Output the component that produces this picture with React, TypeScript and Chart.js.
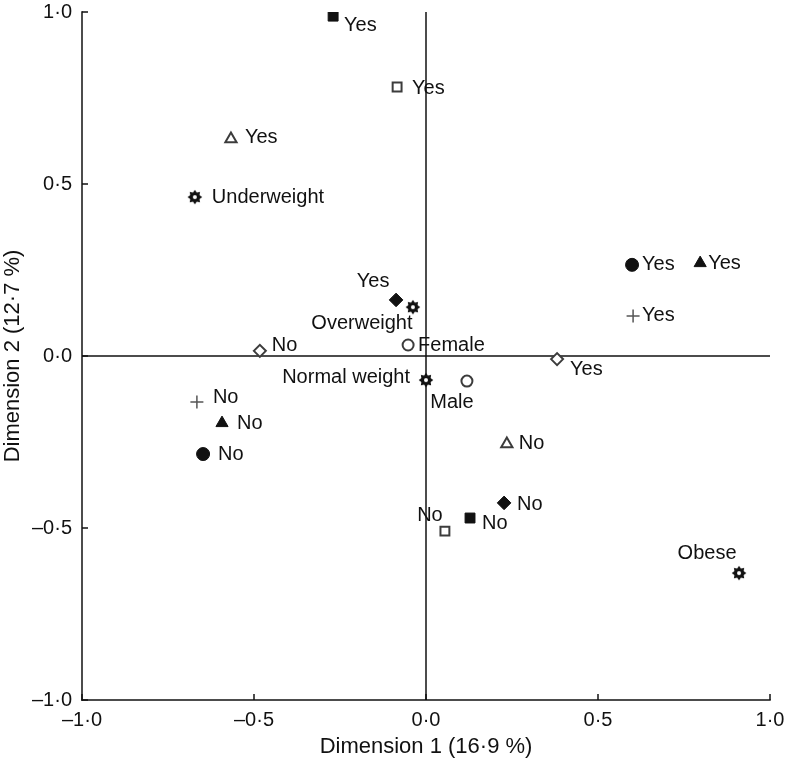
import React, { useEffect, useRef } from 'react';
import { Chart, registerables } from 'chart.js';

Chart.register(...registerables);

// ---- Data (Dimension 1, Dimension 2 coordinates per variable) ----
const tickValues = [-1, -0.5, 0, 0.5, 1];

const filledSquareDim1 = [-0.27, 0.128];
const filledSquareDim2 = [0.988, -0.471];
const filledSquareLabels = ['Yes', 'No'];

const openSquareDim1 = [-0.084, 0.055];
const openSquareDim2 = [0.782, -0.509];
const openSquareLabels = ['Yes', 'No'];

const openTriangleDim1 = [-0.567, 0.235];
const openTriangleDim2 = [0.631, -0.256];
const openTriangleLabels = ['Yes', 'No'];

const filledDiamondDim1 = [-0.087, 0.227];
const filledDiamondDim2 = [0.163, -0.427];
const filledDiamondLabels = ['Yes', 'No'];

const openDiamondDim1 = [-0.483, 0.381];
const openDiamondDim2 = [0.015, -0.009];
const openDiamondLabels = ['No', 'Yes'];

const filledCircleDim1 = [0.599, -0.648];
const filledCircleDim2 = [0.265, -0.285];
const filledCircleLabels = ['Yes', 'No'];

const filledTriangleDim1 = [0.797, -0.593];
const filledTriangleDim2 = [0.27, -0.195];
const filledTriangleLabels = ['Yes', 'No'];

const plusDim1 = [0.602, -0.666];
const plusDim2 = [0.116, -0.134];
const plusLabels = ['Yes', 'No'];

const sexDim1 = [-0.052, 0.119];
const sexDim2 = [0.032, -0.073];
const sexLabels = ['Female', 'Male'];

const bmiDim1 = [-0.672, -0.038, 0.0, 0.91];
const bmiDim2 = [0.462, 0.142, -0.07, -0.631];
const bmiLabels = ['Underweight', 'Overweight', 'Normal weight', 'Obese'];

// ---- Styling (positions of labels relative to markers, marker looks) ----
const FONT = '"Liberation Sans", Arial, Helvetica, sans-serif';
const INK = '#111';
const OPEN_STROKE = '#3c3c3c';

type Place = [number, number, CanvasTextAlign];

function makeStarburst(): HTMLCanvasElement {
  const c = document.createElement('canvas');
  c.width = 16;
  c.height = 16;
  const ctx = c.getContext('2d')!;
  const cx = 8;
  const cy = 8;
  const n = 8;
  ctx.beginPath();
  for (let i = 0; i < n * 2; i++) {
    const r = i % 2 === 0 ? 7.3 : 5;
    const a = (Math.PI * i) / n - Math.PI / 2;
    const px = cx + r * Math.cos(a);
    const py = cy + r * Math.sin(a);
    if (i === 0) ctx.moveTo(px, py);
    else ctx.lineTo(px, py);
  }
  ctx.closePath();
  ctx.fillStyle = INK;
  ctx.fill();
  ctx.beginPath();
  ctx.arc(cx, cy, 2, 0, Math.PI * 2);
  ctx.fillStyle = '#fff';
  ctx.fill();
  return c;
}

function fmtTick(v: number): string {
  const s = Math.abs(v).toFixed(1).replace('.', '\u00B7');
  return (v < 0 ? '\u2013' : '') + s;
}

function pts(xs: number[], ys: number[]) {
  return xs.map((x, i) => ({ x, y: ys[i] }));
}

export default function App() {
  const ref = useRef<HTMLCanvasElement | null>(null);

  useEffect(() => {
    if (!ref.current) return;
    const star = makeStarburst();

    const series = [
      { data: pts(filledSquareDim1, filledSquareDim2), labels: filledSquareLabels, style: 'rect', r: 7, bg: INK, bc: INK, bw: 1,
        place: [[11, 9, 'left'], [12, 5, 'left']] as Place[] },
      { data: pts(openSquareDim1, openSquareDim2), labels: openSquareLabels, style: 'rect', r: 6.3, bg: '#fff', bc: OPEN_STROKE, bw: 2,
        place: [[15, 1, 'left'], [-15, -16, 'center']] as Place[] },
      { data: pts(openTriangleDim1, openTriangleDim2), labels: openTriangleLabels, style: 'triangle', r: 6.5, bg: '#fff', bc: OPEN_STROKE, bw: 2,
        place: [[14, -1, 'left'], [12, -1, 'left']] as Place[] },
      { data: pts(filledDiamondDim1, filledDiamondDim2), labels: filledDiamondLabels, style: 'rectRot', r: 6.8, bg: INK, bc: INK, bw: 1,
        place: [[-23, -18, 'center'], [13, 2, 'left']] as Place[] },
      { data: pts(openDiamondDim1, openDiamondDim2), labels: openDiamondLabels, style: 'rectRot', r: 6, bg: '#fff', bc: OPEN_STROKE, bw: 2,
        place: [[12, -5, 'left'], [13, 10, 'left']] as Place[] },
      { data: pts(filledCircleDim1, filledCircleDim2), labels: filledCircleLabels, style: 'circle', r: 6.5, bg: INK, bc: INK, bw: 1,
        place: [[10, 0, 'left'], [15, 0, 'left']] as Place[] },
      { data: pts(filledTriangleDim1, filledTriangleDim2), labels: filledTriangleLabels, style: 'triangle', r: 7, bg: INK, bc: INK, bw: 1,
        place: [[8, 0, 'left'], [15, 0, 'left']] as Place[] },
      { data: pts(plusDim1, plusDim2), labels: plusLabels, style: 'cross', r: 6.5, bg: '#555', bc: '#555', bw: 1.5,
        place: [[9, -1, 'left'], [16, -5, 'left']] as Place[] },
      { data: pts(sexDim1, sexDim2), labels: sexLabels, style: 'circle', r: 5.5, bg: '#fff', bc: OPEN_STROKE, bw: 2,
        place: [[10, 0, 'left'], [-15, 21, 'center']] as Place[] },
      { data: pts(bmiDim1, bmiDim2), labels: bmiLabels, style: star as any, r: 8, bg: INK, bc: INK, bw: 1,
        place: [[17, 0, 'left'], [-51, 16, 'center'], [-16, -3, 'right'], [-32, -20, 'center']] as Place[] },
    ];

    const axesPlugin = {
      id: 'axesLines',
      beforeDatasetsDraw(chart: any) {
        const { ctx, scales } = chart;
        const xs = scales.x;
        const ys = scales.y;
        const L = xs.getPixelForValue(-1);
        const R = xs.getPixelForValue(1);
        const T = ys.getPixelForValue(1);
        const B = ys.getPixelForValue(-1);
        const x0 = xs.getPixelForValue(0);
        const y0 = ys.getPixelForValue(0);
        ctx.save();
        ctx.strokeStyle = INK;
        ctx.lineWidth = 1.5;
        ctx.lineCap = 'butt';
        const line = (a: number, b: number, c: number, d: number) => {
          ctx.beginPath();
          ctx.moveTo(a, b);
          ctx.lineTo(c, d);
          ctx.stroke();
        };
        line(L, T - 0.75, L, B + 0.75);
        line(L - 0.75, B, R + 0.75, B);
        line(x0, T, x0, B);
        line(L, y0, R, y0);
        tickValues.forEach((v) => {
          const px = xs.getPixelForValue(v);
          line(px, B, px, B - 6);
          const py = ys.getPixelForValue(v);
          line(L, py, L + 6, py);
        });
        ctx.restore();
      },
    };

    const labelPlugin = {
      id: 'pointLabels',
      afterDatasetsDraw(chart: any) {
        const { ctx } = chart;
        ctx.save();
        ctx.font = `20px ${FONT}`;
        ctx.fillStyle = INK;
        ctx.textBaseline = 'middle';
        series.forEach((s, di) => {
          const meta = chart.getDatasetMeta(di);
          meta.data.forEach((el: any, i: number) => {
            const [dx, dy, align] = s.place[i];
            ctx.textAlign = align;
            ctx.fillText(s.labels[i], el.x + dx, el.y + dy);
          });
        });
        ctx.restore();
      },
    };

    const fixScale = (w: number | null, h: number | null) => (scale: any) => {
      if (w !== null) scale.width = w;
      if (h !== null) scale.height = h;
      scale.paddingLeft = 0;
      scale.paddingRight = 0;
      scale.paddingTop = 0;
      scale.paddingBottom = 0;
    };

    const chart = new Chart(ref.current, {
      type: 'scatter',
      data: {
        datasets: series.map((s) => ({
          data: s.data,
          pointStyle: s.style,
          pointRadius: s.r,
          pointHoverRadius: s.r,
          pointBackgroundColor: s.bg,
          pointBorderColor: s.bc,
          pointBorderWidth: s.bw,
          showLine: false,
        })) as any,
      },
      options: {
        animation: false,
        responsive: true,
        maintainAspectRatio: false,
        layout: { padding: { left: 0, right: 16, top: 12, bottom: 0 } },
        plugins: {
          legend: { display: false },
          tooltip: { enabled: false },
        },
        events: [],
        scales: {
          x: {
            type: 'linear',
            min: -1,
            max: 1,
            grid: { display: false, drawTicks: false },
            border: { display: false },
            afterBuildTicks: (s: any) => {
              s.ticks = tickValues.map((v) => ({ value: v }));
            },
            afterFit: fixScale(null, 61),
            ticks: {
              padding: 8,
              maxRotation: 0,
              autoSkip: false,
              color: INK,
              font: { family: FONT, size: 20 },
              callback: (v: any) => fmtTick(Number(v)),
            },
            title: {
              display: true,
              text: 'Dimension 1 (16\u00B79 %)',
              color: INK,
              font: { family: FONT, size: 22 },
              padding: { top: 0, bottom: 1 },
            },
          },
          y: {
            type: 'linear',
            min: -1,
            max: 1,
            grid: { display: false, drawTicks: false },
            border: { display: false },
            afterBuildTicks: (s: any) => {
              s.ticks = tickValues.map((v) => ({ value: v }));
            },
            afterFit: fixScale(82, null),
            ticks: {
              padding: 10,
              autoSkip: false,
              color: INK,
              font: { family: FONT, size: 20 },
              callback: (v: any) => fmtTick(Number(v)),
            },
            title: {
              display: true,
              text: 'Dimension 2 (12\u00B77 %)',
              color: INK,
              font: { family: FONT, size: 22 },
              padding: { top: 0, bottom: 0 },
            },
          },
        },
      } as any,
      plugins: [axesPlugin, labelPlugin],
    });

    return () => chart.destroy();
  }, []);

  return (
    <div style={{ position: 'absolute', left: 0, top: 0, width: 786, height: 761, background: '#fff' }}>
      <canvas ref={ref} />
    </div>
  );
}
